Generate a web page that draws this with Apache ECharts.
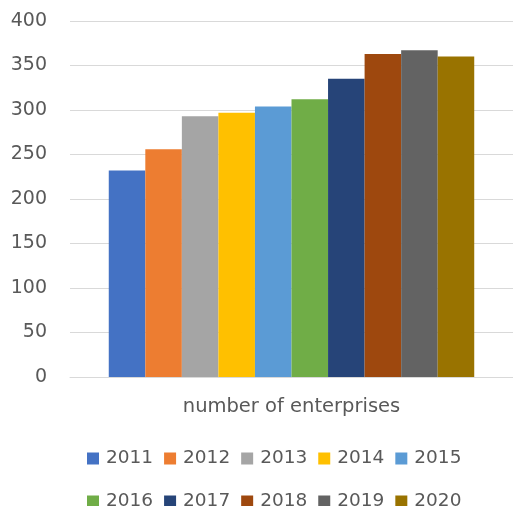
<!DOCTYPE html>
<html>
<head>
<meta charset="utf-8">
<script src="https://cdn.jsdelivr.net/npm/echarts@6/dist/echarts.min.js"></script>
<style>
  html, body { margin: 0; padding: 0; background: #ffffff; }
  #chart { width: 513px; height: 506px; }
</style>
</head>
<body>
<div id="chart"></div>
<script>
// Number of enterprises per year
const categories = ['number of enterprises'];
const years = ['2011', '2012', '2013', '2014', '2015', '2016', '2017', '2018', '2019', '2020'];
const values = [232, 256, 293, 297, 304, 312, 335, 363, 367, 360];
const colors = ['#4472C4', '#ED7D31', '#A5A5A5', '#FFC000', '#5B9BD5',
                '#70AD47', '#264478', '#9E480E', '#636363', '#997300'];
const yTicks = { min: 0, max: 400, interval: 50 };

const FONT = 'DejaVu Sans';
const TEXT = '#595959';
const GRID = '#d9d9d9';

const chart = echarts.init(document.getElementById('chart'), null, { renderer: 'canvas' });

const series = years.map((y, i) => ({
  name: y,
  type: 'bar',
  data: [values[i]],
  itemStyle: { color: colors[i] },
  barGap: '0%',
  barCategoryGap: '17.5%'
}));

const legendBase = {
  orient: 'horizontal',
  left: 82,
  itemWidth: 12,
  itemHeight: 12,
  itemGap: 11,
  icon: 'rect',
  textStyle: { color: TEXT, fontFamily: FONT, fontSize: 18.5, padding: [0, 0, 0, 2] }
};

chart.setOption({
  animation: false,
  color: colors,
  grid: { left: 70, right: 0, top: 21, bottom: 129, containLabel: false },
  legend: [
    Object.assign({}, legendBase, { top: 444, data: years.slice(0, 5) }),
    Object.assign({}, legendBase, { top: 487, data: years.slice(5) })
  ],
  xAxis: {
    type: 'category',
    data: categories,
    axisLine: { show: true, lineStyle: { color: GRID, width: 1 } },
    axisTick: { show: false },
    axisLabel: { color: TEXT, fontFamily: FONT, fontSize: 19.5, margin: 20 }
  },
  yAxis: {
    type: 'value',
    min: yTicks.min,
    max: yTicks.max,
    interval: yTicks.interval,
    axisLine: { show: false },
    axisTick: { show: false },
    splitLine: { lineStyle: { color: GRID, width: 1 } },
    axisLabel: { color: TEXT, fontFamily: FONT, fontSize: 19, margin: 23 }
  },
  series: series
});
</script>
</body>
</html>
